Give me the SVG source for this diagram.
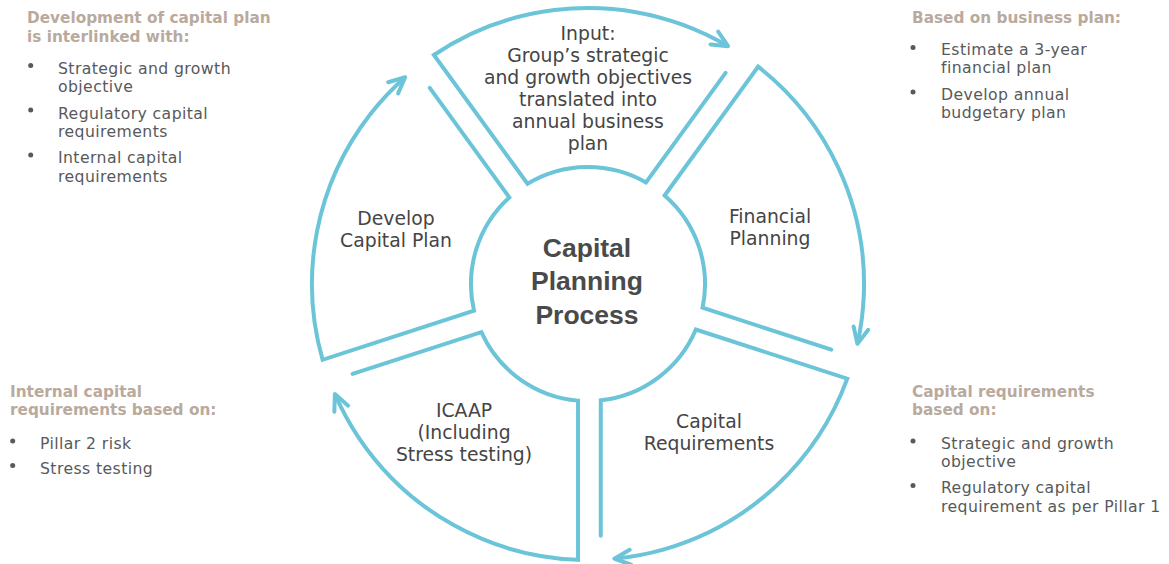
<svg xmlns="http://www.w3.org/2000/svg" xmlns:xlink="http://www.w3.org/1999/xlink" width="1169" height="564" viewBox="0 0 1169 564">
<style>
.seg{fill:none;stroke:#6bc4d8;stroke-width:4;stroke-linejoin:miter;stroke-linecap:round}
.con{fill:none;stroke:#6bc4d8;stroke-width:4;stroke-linecap:butt}
.lbl{font-family:"DejaVu Sans","Liberation Sans",sans-serif;font-size:18.8px;fill:#454545;text-anchor:middle}
.title{font-family:"Liberation Sans","Open Sans",sans-serif;font-size:26.5px;font-weight:bold;fill:#4a4a4a;text-anchor:middle}
.head{font-family:"DejaVu Sans","Liberation Sans",sans-serif;font-size:15.3px;font-weight:bold;fill:#b9aa9d}
.item{font-family:"DejaVu Sans","Liberation Sans",sans-serif;font-size:15.7px;letter-spacing:0.4px;fill:#58595b}
.dot{fill:#58595b}
</style>
<defs>
<path id="segShape" d="M137.6,-211.1 L58,-101.6 A117,117 0 0 0 -60.5,-100.2 L-154.1,-229 A276,276 0 0 1 94.4,-259.4"/>
<path id="conShape" d="M94.4,-259.4 A276,276 0 0 1 140.1,-237.8"/>
<marker id="arrow" markerUnits="userSpaceOnUse" markerWidth="30" markerHeight="30" viewBox="-20 -15 30 30" refX="0" refY="0" orient="auto" overflow="visible">
<path d="M-16,-7.5 L0,0 L-16,7.5" fill="none" stroke="#6bc4d8" stroke-width="4" stroke-linecap="round" stroke-linejoin="round"/>
</marker>
</defs>

<g id="node-input">
<use xlink:href="#segShape" href="#segShape" class="seg" transform="translate(588 284)"/>
<text class="lbl" x="588" y="39.5">Input:</text>
<text class="lbl" x="588" y="61.6">Group’s strategic</text>
<text class="lbl" x="588" y="83.7">and growth objectives</text>
<text class="lbl" x="588" y="105.8">translated into</text>
<text class="lbl" x="588" y="127.9">annual business</text>
<text class="lbl" x="588" y="150">plan</text>
</g>

<g id="node-financial">
<use xlink:href="#segShape" href="#segShape" class="seg" transform="translate(588 284) rotate(72)"/>
<text class="lbl" x="770" y="222.5">Financial</text>
<text class="lbl" x="770" y="244.5">Planning</text>
</g>

<g id="node-capreq">
<use xlink:href="#segShape" href="#segShape" class="seg" transform="translate(588 284) rotate(144)"/>
<text class="lbl" x="709" y="428">Capital</text>
<text class="lbl" x="709" y="450">Requirements</text>
</g>

<g id="node-icaap">
<use xlink:href="#segShape" href="#segShape" class="seg" transform="translate(588 284) rotate(216)"/>
<text class="lbl" x="464" y="417">ICAAP</text>
<text class="lbl" x="464" y="439">(Including</text>
<text class="lbl" x="464" y="461">Stress testing)</text>
</g>

<g id="node-develop">
<use xlink:href="#segShape" href="#segShape" class="seg" transform="translate(588 284) rotate(288)"/>
<text class="lbl" x="396" y="225">Develop</text>
<text class="lbl" x="396" y="247">Capital Plan</text>
</g>

<g id="node-center">
<text class="title" x="587" y="256.5">Capital</text>
<text class="title" x="587" y="290">Planning</text>
<text class="title" x="587" y="323.5">Process</text>
</g>

<g id="connectors">
<use xlink:href="#conShape" href="#conShape" class="con" marker-end="url(#arrow)" transform="translate(588 284)"/>
<use xlink:href="#conShape" href="#conShape" class="con" marker-end="url(#arrow)" transform="translate(588 284) rotate(72)"/>
<use xlink:href="#conShape" href="#conShape" class="con" marker-end="url(#arrow)" transform="translate(588 284) rotate(144)"/>
<use xlink:href="#conShape" href="#conShape" class="con" marker-end="url(#arrow)" transform="translate(588 284) rotate(216)"/>
<use xlink:href="#conShape" href="#conShape" class="con" marker-end="url(#arrow)" transform="translate(588 284) rotate(288)"/>
</g>

<g id="note-develop">
<text class="head" x="27" y="22.7">Development of capital plan</text>
<text class="head" x="27" y="41.7">is interlinked with:</text>
<circle class="dot" cx="30.7" cy="65.5" r="2.5"/>
<text class="item" x="58" y="74">Strategic and growth</text>
<text class="item" x="58" y="92.3">objective</text>
<circle class="dot" cx="30.7" cy="110" r="2.5"/>
<text class="item" x="58" y="118.5">Regulatory capital</text>
<text class="item" x="58" y="136.8">requirements</text>
<circle class="dot" cx="30.7" cy="155" r="2.5"/>
<text class="item" x="58" y="163.3">Internal capital</text>
<text class="item" x="58" y="181.6">requirements</text>
</g>

<g id="note-financial">
<text class="head" x="912" y="22.7">Based on business plan:</text>
<circle class="dot" cx="913" cy="47.5" r="2.5"/>
<text class="item" x="941" y="55">Estimate a 3-year</text>
<text class="item" x="941" y="73.3">financial plan</text>
<circle class="dot" cx="913" cy="92" r="2.5"/>
<text class="item" x="941" y="100">Develop annual</text>
<text class="item" x="941" y="118.3">budgetary plan</text>
</g>

<g id="note-icaap">
<text class="head" x="10" y="396.7">Internal capital</text>
<text class="head" x="10" y="415">requirements based on:</text>
<circle class="dot" cx="12.7" cy="441" r="2.5"/>
<text class="item" x="40" y="449">Pillar 2 risk</text>
<circle class="dot" cx="12.7" cy="465.5" r="2.5"/>
<text class="item" x="40" y="473.5">Stress testing</text>
</g>

<g id="note-capreq">
<text class="head" x="912" y="396.7">Capital requirements</text>
<text class="head" x="912" y="415">based on:</text>
<circle class="dot" cx="913" cy="441" r="2.5"/>
<text class="item" x="941" y="448.5">Strategic and growth</text>
<text class="item" x="941" y="466.8">objective</text>
<circle class="dot" cx="913" cy="485.5" r="2.5"/>
<text class="item" x="941" y="493.3">Regulatory capital</text>
<text class="item" x="941" y="511.6">requirement as per Pillar 1</text>
</g>
</svg>
